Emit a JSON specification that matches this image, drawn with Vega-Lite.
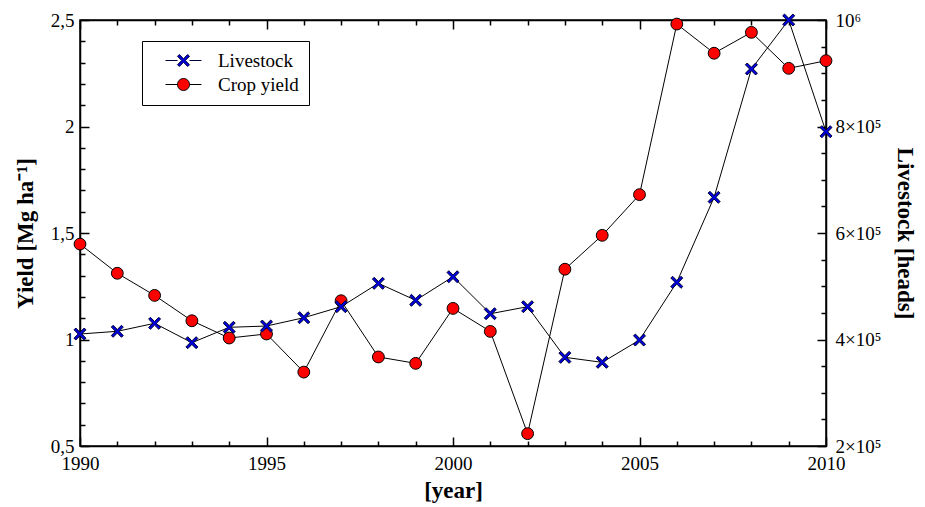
{
  "$schema": "https://vega.github.io/schema/vega-lite/v6.json",
  "width": 746,
  "height": 426,
  "autosize": "none",
  "padding": {"left": 80, "top": 20, "right": 99, "bottom": 61},
  "background": "white",
  "config": {
    "view": {"stroke": "black", "strokeWidth": 1.5},
    "font": "Liberation Serif",
    "axis": {
      "labelFont": "Liberation Serif",
      "titleFont": "Liberation Serif",
      "labelFontSize": 19,
      "titleFontSize": 23,
      "titleFontWeight": "bold",
      "labelColor": "black",
      "titleColor": "black",
      "domainColor": "black",
      "domainWidth": 1.5,
      "tickColor": "black",
      "tickWidth": 1.5,
      "grid": false,
      "labelOverlap": false,
      "labelFlush": false
    }
  },
  "datasets": {
    "d": [
      {"year": 1990, "crop": 1.448, "livestock": 410300},
      {"year": 1991, "crop": 1.311, "livestock": 415400},
      {"year": 1992, "crop": 1.207, "livestock": 430400},
      {"year": 1993, "crop": 1.088, "livestock": 394000},
      {"year": 1994, "crop": 1.007, "livestock": 422900},
      {"year": 1995, "crop": 1.026, "livestock": 425300},
      {"year": 1996, "crop": 0.847, "livestock": 440900},
      {"year": 1997, "crop": 1.182, "livestock": 461600},
      {"year": 1998, "crop": 0.918, "livestock": 505500},
      {"year": 1999, "crop": 0.888, "livestock": 473600},
      {"year": 2000, "crop": 1.146, "livestock": 517900},
      {"year": 2001, "crop": 1.038, "livestock": 448400},
      {"year": 2002, "crop": 0.558, "livestock": 461600},
      {"year": 2003, "crop": 1.330, "livestock": 366500},
      {"year": 2004, "crop": 1.489, "livestock": 357100},
      {"year": 2005, "crop": 1.680, "livestock": 399000},
      {"year": 2006, "crop": 2.481, "livestock": 507400},
      {"year": 2007, "crop": 2.344, "livestock": 667000},
      {"year": 2008, "crop": 2.442, "livestock": 908000},
      {"year": 2009, "crop": 2.273, "livestock": 1000000},
      {"year": 2010, "crop": 2.309, "livestock": 790200}
    ]
  },
  "data": {"name": "d"},
  "layer": [
    {
      "mark": {"type": "line", "color": "black", "strokeWidth": 1},
      "encoding": {
        "x": {
          "field": "year", "type": "quantitative",
          "scale": {"domain": [1990, 2010], "nice": false, "zero": false},
          "axis": {"orient": "bottom", "title": null, "labels": false, "domain": false,
            "values": [1991,1992,1993,1994,1996,1997,1998,1999,2001,2002,2003,2004,2006,2007,2008,2009],
            "tickSize": -5}
        },
        "y": {
          "field": "crop", "type": "quantitative",
          "scale": {"domain": [0.5, 2.5], "nice": false, "zero": false},
          "axis": {"orient": "left", "title": null, "labels": false, "domain": false,
            "values": [0.6,0.7,0.8,0.9,1.1,1.2,1.3,1.4,1.6,1.7,1.8,1.9,2.1,2.2,2.3,2.4],
            "tickSize": -5}
        }
      }
    },
    {
      "mark": {"type": "point", "filled": true, "size": 140, "stroke": "black", "strokeWidth": 1, "opacity": 1, "shape": "circle"},
      "encoding": {
        "x": {
          "field": "year", "type": "quantitative",
          "axis": {
            "orient": "bottom",
            "title": "[year]",
            "values": [1990, 1995, 2000, 2005, 2010],
            "format": "d",
            "tickSize": -9,
            "labelPadding": 17,
            "titlePadding": 6
          }
        },
        "y": {
          "field": "crop", "type": "quantitative",
          "scale": {"domain": [0.5, 2.5], "nice": false, "zero": false},
          "axis": {
            "orient": "left",
            "title": "Yield [Mg ha⁻¹]",
            "values": [0.5, 1, 1.5, 2, 2.5],
            "labelExpr": "replace(toString(datum.value), '.', ',')",
            "tickSize": -9,
            "labelPadding": 15,
            "titlePadding": 13
          }
        },
        "fill": {
          "datum": "Crop yield",
          "scale": {"domain": ["Livestock", "Crop yield"], "range": ["#0000dd", "#ff0000"]},
          "legend": {
            "title": null,
            "orient": "none",
            "legendX": 62,
            "legendY": 21,
            "direction": "vertical",
            "strokeColor": "black",
            "fillColor": "white",
            "cornerRadius": 0,
            "padding": 10,
            "symbolOffset": 22,
            "labelOffset": 25,
            "rowPadding": 4,
            "symbolSize": 144,
            "symbolStrokeColor": "black",
            "symbolStrokeWidth": 1,
            "labelFont": "Liberation Serif",
            "labelFontSize": 19,
            "labelColor": "black",
            "symbolOpacity": 1,
            "encode": {
              "symbols": {
                "update": {
                  "shape": {"signal": "datum.value == 'Livestock' ? 'M-3,0H-1M1,0H3M-1,-0.7L-0.7,-1L0,-0.3L0.7,-1L1,-0.7L0.3,0L1,0.7L0.7,1L0,0.3L-0.7,1L-1,0.7L-0.3,0Z' : 'M-3,0H-1M1,0H3M-1,0A1,1 0 1 0 1,0A1,1 0 1 0 -1,0Z'"},
                  "stroke": {"signal": "datum.value == 'Livestock' ? '#000033' : 'black'"}
                }
              }
            }
          }
        }
      }
    },
    {
      "mark": {"type": "line", "color": "black", "strokeWidth": 1},
      "encoding": {
        "x": {
          "field": "year", "type": "quantitative",
          "axis": {"orient": "top", "title": null, "labels": false, "domain": false,
            "values": [1991,1992,1993,1994,1996,1997,1998,1999,2001,2002,2003,2004,2006,2007,2008,2009],
            "tickSize": -5}
        },
        "y": {
          "field": "livestock", "type": "quantitative",
          "scale": {"domain": [200000, 1000000], "nice": false, "zero": false},
          "axis": {"orient": "right", "title": null, "labels": false, "domain": false,
            "values": [250000,300000,350000,450000,500000,550000,650000,700000,750000,850000,900000,950000],
            "tickSize": -5}
        }
      }
    },
    {
      "mark": {"type": "point", "filled": true, "size": 144, "stroke": "#000033", "strokeWidth": 1, "opacity": 1,
        "shape": "M-1,-0.7L-0.7,-1L0,-0.3L0.7,-1L1,-0.7L0.3,0L1,0.7L0.7,1L0,0.3L-0.7,1L-1,0.7L-0.3,0Z"},
      "encoding": {
        "x": {
          "field": "year", "type": "quantitative",
          "axis": {"orient": "top", "title": null, "labels": false,
            "values": [1990, 1995, 2000, 2005, 2010],
            "tickSize": -9}
        },
        "y": {
          "field": "livestock", "type": "quantitative",
          "scale": {"domain": [200000, 1000000], "nice": false, "zero": false},
          "axis": {
            "orient": "right",
            "title": "Livestock [heads]",
            "values": [200000, 400000, 600000, 800000, 1000000],
            "labelExpr": "datum.value == 1000000 ? '10⁶' : toString(datum.value/100000) + '×10⁵'",
            "tickSize": -9,
            "labelPadding": 18,
            "titlePadding": 12
          }
        },
        "fill": {"datum": "Livestock"}
      }
    }
  ],
  "resolve": {
    "scale": {"y": "independent"},
    "axis": {"y": "independent", "x": "independent"}
  }
}
